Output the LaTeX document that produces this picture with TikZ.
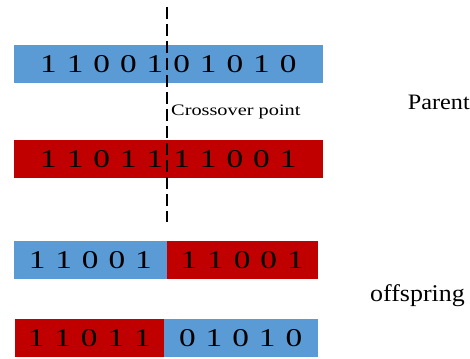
\documentclass[tikz,border=0pt]{standalone}
\usepackage{fontspec}
\setmainfont{Liberation Serif}
\newfontfamily\bitfont[WordSpace=1.2]{Liberation Serif}
\usetikzlibrary{positioning}
\definecolor{chromblue}{HTML}{5B9BD5}
\definecolor{chromred}{HTML}{C00000}

\begin{document}
\begin{tikzpicture}[
  x=1pt, y=-1pt,
  bar/.style={anchor=north west, inner sep=0pt, outer sep=0pt, minimum height=38.3pt,
              font=\bitfont\fontsize{25.6}{28}\selectfont},
  bitblue/.style={bar, fill=chromblue},
  bitred/.style={bar, fill=chromred},
  cut/.style={dash pattern=on 12pt off 5pt, line width=1.6pt, draw=black},
  lbl/.style={inner sep=0pt, anchor=base west},
]
\useasboundingbox (0,0) rectangle (470,358);
\newcommand{\wide}[2]{\scalebox{#1}[1]{#2}}
% ---- parents ----
\node[bitblue, minimum width=308.7pt] (pa) at (14,45)  {\wide{1.3}{1 1 0 0 1 0 1 0 1 0}};
\node[bitred,  minimum width=308.7pt] (pb) at (14,140) {\wide{1.3}{1 1 0 1 1 1 1 0 0 1}};

% ---- offspring ----
\node[bitblue, minimum width=152.7pt] (oa1) at (14,241)    {\wide{1.3}{1 1 0 0 1}};
\node[bitred,  minimum width=151pt]   (oa2) at (166.7,241) {\wide{1.3}{1 1 0 0 1}};
\node[bitred,  minimum width=148.7pt] (ob1) at (15,319)    {\wide{1.3}{1 1 0 1 1}};
\node[bitblue, minimum width=154pt]   (ob2) at (163.7,319) {\wide{1.3}{0 1 0 1 0}};

% ---- crossover cut ----
\coordinate (cuttop) at (166.7,7);
\coordinate (cutbot) at (166.7,222);
\draw[cut] (cuttop) -- (cutbot);
\node[lbl, font=\fontsize{16}{18}\selectfont] (xo) at (171,116) {\wide{1.27}{Crossover point}};

% ---- labels ----
\node[lbl, font=\fontsize{22}{24}\selectfont] (parent) at (407.7,109.3) {\wide{1.1}{Parent}};
\node[lbl, font=\fontsize{24}{26}\selectfont] (offs) at (370,301) {\wide{1.08}{offspring}};
\end{tikzpicture}
\end{document}
